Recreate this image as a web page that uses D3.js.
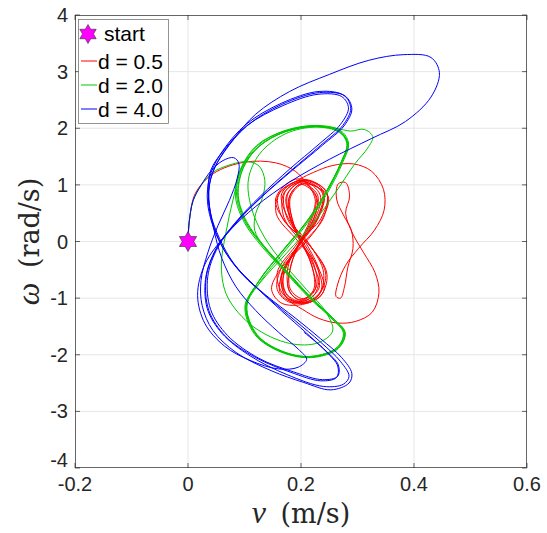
<!DOCTYPE html>
<html>
<head>
<meta charset="utf-8">
<script src="https://cdn.jsdelivr.net/npm/d3@7"></script>
<style>
  body { margin: 0; background: #fff; }
  svg { display: block; font-family: "Liberation Sans", Arial, sans-serif; }
</style>
</head>
<body>
<div id="chart"></div>
<script>
// axis ticks
const xTicks = [-0.2, 0, 0.2, 0.4, 0.6];
const xTickLabels = ["-0.2", "0", "0.2", "0.4", "0.6"];
const yTicks = [-4, -3, -2, -1, 0, 1, 2, 3, 4];

const seriesNames = ["d = 0.5", "d = 2.0", "d = 4.0"];
const seriesColors = ["#ff0000", "#00c800", "#0000ff"];
const startPoint = [0, 0];

// trajectories [v, omega]
const pathRed = [
  [0,0],[0.003,0.4],[0.013,0.85],[0.045,1.2],[0.1,1.4],[0.155,1.39],[0.19,1.24],[0.21,1.03],
  [0.23,0.8],[0.222,0.4],[0.2,0.02],[0.176,-0.4],[0.168,-0.8],[0.188,-1.05],[0.222,-0.96],[0.232,-0.55],[0.213,-0.1],[0.184,0.35],[0.174,0.8],[0.2,1.05],
  [0.24,0.85],[0.23,0.4],[0.2,-0.02],[0.166,-0.45],[0.158,-0.85],[0.182,-1.08],[0.23,-0.96],[0.24,-0.55],[0.215,-0.05],[0.178,0.4],[0.166,0.85],[0.202,1.08],
  [0.225,0.75],[0.215,0.35],[0.198,0],[0.183,-0.4],[0.178,-0.85],[0.198,-1.03],[0.222,-0.86],[0.22,-0.45],[0.2,0.02],[0.184,0.4],[0.182,0.8],[0.205,1.02],
  [0.248,0.8],[0.235,0.35],[0.205,-0.05],[0.163,-0.5],[0.148,-0.85],[0.168,-1.1],[0.222,-1.04],[0.244,-0.6],[0.218,-0.1],[0.172,0.35],[0.155,0.75],[0.19,1.1],
  [0.244,0.9],[0.24,0.42],[0.204,-0.03],[0.17,-0.48],[0.163,-0.9],[0.188,-1.08],[0.232,-0.99],[0.246,-0.58],[0.216,-0.08],[0.168,0.4],[0.16,0.82],[0.198,1.1],
  [0.222,1.22],[0.255,1.34],[0.293,1.37],[0.325,1.24],[0.346,0.92],[0.347,0.55],[0.33,0.2],[0.302,-0.12],[0.279,-0.42],[0.265,-0.75],[0.262,-0.97],[0.27,-1.0],
  [0.277,-0.8],[0.283,-0.45],[0.292,-0.12],[0.289,0.2],[0.276,0.45],[0.263,0.75],[0.266,1.02],[0.279,1.04],[0.286,0.8],[0.279,0.5],[0.291,0.15],[0.311,-0.2],
  [0.331,-0.55],[0.338,-0.9],[0.326,-1.25],[0.297,-1.41],[0.265,-1.44],[0.232,-1.36],[0.203,-1.2],
  [0.175,-1.0],[0.165,-0.65],[0.182,-0.3],[0.2,0.0],[0.225,0.4],[0.234,0.82],[0.205,1.06],[0.177,0.85],[0.18,0.42],[0.2,0.01],[0.222,-0.42],[0.232,-0.82],[0.203,-1.06],
  [0.174,-0.92],[0.17,-0.5],[0.199,-0.02],[0.23,0.45],[0.238,0.85],[0.207,1.07],[0.172,0.88],[0.174,0.45],[0.201,0.03],[0.226,-0.4],[0.236,-0.85],[0.206,-1.08],
  [0.17,-0.95],[0.158,-0.55],[0.19,-0.08],[0.222,0.38],[0.228,0.78],[0.203,1.03],[0.18,0.8],[0.185,0.38],[0.2,0.0],[0.218,-0.4],[0.225,-0.85],[0.2,-1.04],
  [0.18,-0.88],[0.177,-0.45],[0.2,0.02],[0.235,0.4],[0.246,0.85],[0.21,1.09],[0.165,0.9],[0.156,0.5],[0.195,0.0],[0.23,-0.45],[0.24,-0.88],[0.21,-1.09],
  [0.174,-0.98],[0.165,-0.6],[0.196,-0.05],[0.22,0.42],[0.226,0.8],[0.2,1.01],[0.179,0.78],[0.183,0.35],[0.2,0.0],[0.222,-0.38],[0.227,-0.8],[0.204,-1.01],
  [0.181,-0.84],[0.182,-0.42],[0.201,0.0],[0.23,0.42],[0.24,0.88],[0.208,1.08],[0.17,0.86],[0.17,0.42],[0.199,0.02]
];

const pathGreen = [
  [0,0],[0.002,0.34],[0.009,0.72],[0.023,0.99],[0.044,1.22],[0.076,1.36],[0.106,1.41],[0.126,1.33],[0.136,1.08],[0.132,0.78],[0.12,0.5],[0.118,0.2],
  [0.135,-0.1],[0.172,-0.52],[0.217,-1.0],[0.256,-1.37],[0.275,-1.62],[0.263,-1.88],[0.217,-2.03],[0.164,-1.94],[0.12,-1.64],[0.102,-1.14],
  [0.126,-0.69],[0.165,-0.19],[0.209,0.34],[0.244,0.87],[0.271,1.4],[0.281,1.73],[0.267,1.94],[0.227,2.03],[0.173,1.94],[0.126,1.68],[0.097,1.29],[0.088,0.81],
  [0.103,0.34],[0.133,-0.07],[0.173,-0.51],[0.218,-1.0],[0.257,-1.36],[0.276,-1.61],[0.264,-1.87],[0.218,-2.03],[0.165,-1.93],[0.12,-1.63],[0.103,-1.13],
  [0.127,-0.68],[0.167,-0.18],[0.211,0.35],[0.246,0.88],[0.273,1.41],[0.284,1.74],[0.27,1.96],[0.228,2.05],[0.172,1.96],[0.124,1.7],[0.095,1.3],[0.086,0.82],
  [0.101,0.35],[0.131,-0.06],[0.171,-0.5],[0.216,-0.99],[0.256,-1.35],[0.278,-1.6],[0.266,-1.89],[0.219,-2.05],[0.164,-1.95],[0.118,-1.64],[0.101,-1.12],
  [0.13,-0.7],[0.175,-0.2],[0.222,0.33],[0.262,0.88],[0.296,1.38],[0.318,1.65],[0.327,1.85],[0.312,1.98],[0.288,1.95],[0.262,2.0],[0.226,2.04],[0.17,1.95],
  [0.122,1.7],[0.093,1.28],[0.084,0.8],[0.1,0.33],[0.13,-0.08],[0.17,-0.52],[0.215,-1.0],[0.255,-1.37],[0.277,-1.62],[0.265,-1.88],[0.22,-2.04],[0.166,-1.94],
  [0.122,-1.64],[0.104,-1.14],
  [0.126,-0.69],[0.165,-0.19],[0.209,0.34],[0.244,0.87],[0.271,1.4],[0.282,1.73],[0.268,1.95],[0.227,2.03],[0.172,1.94],[0.125,1.68],[0.095,1.29],[0.08,0.75],
  [0.067,0.15],[0.059,-0.45],[0.07,-0.98],[0.115,-1.5],[0.18,-1.8],[0.23,-1.79],[0.256,-1.58],[0.245,-1.26],[0.21,-0.85],[0.17,-0.4],[0.135,0.08],[0.112,0.6],
  [0.107,1.1],[0.127,1.55],[0.172,1.9],[0.226,2.02],[0.268,1.93],[0.284,1.72],[0.274,1.4],[0.247,0.86],[0.211,0.32],[0.168,-0.21],[0.128,-0.71],[0.104,-1.14],
  [0.121,-1.65],[0.166,-1.95],[0.22,-2.04],[0.266,-1.88],[0.278,-1.62],[0.258,-1.37],[0.219,-1.0],[0.174,-0.51],[0.134,-0.07],[0.104,0.35],[0.089,0.81],[0.098,1.3],
  [0.127,1.69],[0.174,1.95],[0.228,2.04],[0.268,1.95],[0.282,1.74],[0.272,1.41],[0.245,0.88]
];

const pathBlue = [
  [0,0],[0.002,0.34],[0.009,0.72],[0.023,0.99],[0.041,1.25],[0.062,1.43],[0.081,1.48],[0.09,1.38],[0.087,1.11],[0.073,0.72],[0.053,0.28],[0.035,-0.2],
  [0.023,-0.69],[0.025,-1.13],[0.044,-1.57],[0.085,-1.96],[0.147,-2.28],[0.205,-2.49],[0.253,-2.62],[0.285,-2.5],[0.29,-2.33],
  [0.272,-2.05],[0.235,-1.72],[0.191,-1.36],[0.138,-0.95],[0.094,-0.55],[0.062,-0.12],[0.041,0.37],[0.034,0.81],[0.041,1.22],[0.062,1.61],[0.103,2.07],
  [0.165,2.44],[0.232,2.65],[0.276,2.58],[0.288,2.35],[0.274,2.05],[0.235,1.7],[0.182,1.25],[0.129,0.78],[0.085,0.34],[0.05,-0.12],[0.032,-0.65],[0.037,-1.22],
  [0.067,-1.68],[0.12,-2.05],[0.182,-2.31],[0.235,-2.46],[0.263,-2.4],[0.265,-2.2],[0.245,-1.95],
  [0.21,-1.62],[0.165,-1.22],[0.12,-0.8],[0.082,-0.4],[0.056,0.05],[0.04,0.5],[0.038,1.0],[0.052,1.4],[0.08,1.8],[0.12,2.25],[0.18,2.65],[0.25,2.95],
  [0.32,3.2],[0.382,3.3],[0.43,3.25],[0.445,2.98],[0.43,2.55],[0.385,2.12],[0.325,1.82],[0.25,1.45],[0.18,1.05],[0.12,0.62],[0.07,0.15],[0.03,-0.4],
  [0.017,-0.95],[0.03,-1.45],[0.065,-1.85],[0.11,-2.1],[0.16,-2.25],[0.195,-2.22],[0.21,-2.08],[0.195,-1.9],
  [0.16,-1.6],[0.12,-1.22],[0.085,-0.8],[0.06,-0.3],[0.045,0.25],[0.036,0.8],[0.04,1.25],[0.064,1.62],[0.105,2.05],[0.168,2.4],[0.23,2.6],[0.272,2.56],
  [0.284,2.36],[0.27,2.07],[0.232,1.72],[0.18,1.28],[0.128,0.8],[0.086,0.36],[0.052,-0.1],[0.032,-0.6],[0.034,-1.18],[0.06,-1.62],[0.11,-2.02],[0.175,-2.35],
  [0.24,-2.56],[0.275,-2.52],[0.285,-2.38],[0.27,-2.12],
  [0.235,-1.78],[0.19,-1.4],[0.14,-0.98],[0.096,-0.58],[0.064,-0.15],[0.043,0.35],[0.036,0.8],[0.043,1.2],[0.064,1.58],[0.104,2.04],[0.166,2.42],[0.233,2.63],
  [0.278,2.57],[0.29,2.34],[0.276,2.04],[0.238,1.7],[0.185,1.26],[0.132,0.8],[0.088,0.36],[0.053,-0.1],[0.035,-0.62],[0.04,-1.2],[0.07,-1.66],[0.125,-2.06],
  [0.186,-2.3],[0.238,-2.44],[0.265,-2.38],[0.266,-2.18],[0.245,-1.94],[0.205,-1.6]
];

const paths = [pathRed, pathGreen, pathBlue];

const W = 547, H = 533;
const plot = {left: 75, right: 527, top: 15, bottom: 468};

const svg = d3.select("#chart").append("svg")
    .attr("width", W)
    .attr("height", H);

const x = d3.scaleLinear().domain([-0.2, 0.6]).range([plot.left, plot.right]);
const y = d3.scaleLinear().domain([-4, 4]).range([plot.bottom, plot.top]);

// grid
svg.append("g").selectAll("line")
    .data(xTicks.slice(1, -1))
    .enter().append("line")
    .attr("x1", d => x(d)).attr("x2", d => x(d))
    .attr("y1", plot.top).attr("y2", plot.bottom)
    .attr("stroke", "#e6e6e6").attr("stroke-width", 1);

svg.append("g").selectAll("line")
    .data(yTicks.slice(1, -1))
    .enter().append("line")
    .attr("y1", d => y(d)).attr("y2", d => y(d))
    .attr("x1", plot.left).attr("x2", plot.right)
    .attr("stroke", "#e6e6e6").attr("stroke-width", 1);

// clip for the curves
svg.append("defs").append("clipPath")
    .attr("id", "clip")
    .append("rect")
    .attr("x", plot.left).attr("y", plot.top)
    .attr("width", plot.right - plot.left)
    .attr("height", plot.bottom - plot.top);

const line = d3.line()
    .x(d => x(d[0]))
    .y(d => y(d[1]))
    .curve(d3.curveCatmullRom.alpha(0.5));

svg.append("g").attr("clip-path", "url(#clip)")
    .selectAll("path")
    .data(paths)
    .enter().append("path")
    .attr("d", d => line(d))
    .attr("fill", "none")
    .attr("stroke", (d, i) => seriesColors[i])
    .attr("stroke-width", 1);

// six-pointed star marker
function hexagram(R) {
    let pts = [];
    for (let k = 0; k < 12; k++) {
        let a = -Math.PI / 2 + k * Math.PI / 6;
        let r = (k % 2 === 0) ? R : R / Math.sqrt(3);
        pts.push([r * Math.cos(a), r * Math.sin(a)]);
    }
    return "M" + pts.map(p => p[0].toFixed(2) + "," + p[1].toFixed(2)).join("L") + "Z";
}

svg.append("path")
    .attr("d", hexagram(10))
    .attr("transform", "translate(" + x(startPoint[0]) + "," + y(startPoint[1]) + ")")
    .attr("fill", "#ff00ff")
    .attr("stroke", "#333")
    .attr("stroke-width", 0.6);

// axes box and ticks
const axisColor = "#262626";
svg.append("rect")
    .attr("x", plot.left + 0.5).attr("y", plot.top + 0.5)
    .attr("width", plot.right - plot.left - 1)
    .attr("height", plot.bottom - plot.top - 1)
    .attr("fill", "none")
    .attr("stroke", axisColor).attr("stroke-width", 0.7);

const tickLen = 5;
xTicks.forEach(t => {
    svg.append("line").attr("x1", x(t)).attr("x2", x(t))
        .attr("y1", plot.bottom).attr("y2", plot.bottom - tickLen)
        .attr("stroke", axisColor).attr("stroke-width", 0.7);
    svg.append("line").attr("x1", x(t)).attr("x2", x(t))
        .attr("y1", plot.top).attr("y2", plot.top + tickLen)
        .attr("stroke", axisColor).attr("stroke-width", 0.7);
});
yTicks.forEach(t => {
    svg.append("line").attr("y1", y(t)).attr("y2", y(t))
        .attr("x1", plot.left).attr("x2", plot.left + tickLen)
        .attr("stroke", axisColor).attr("stroke-width", 0.7);
    svg.append("line").attr("y1", y(t)).attr("y2", y(t))
        .attr("x1", plot.right).attr("x2", plot.right - tickLen)
        .attr("stroke", axisColor).attr("stroke-width", 0.7);
});

// tick labels
svg.append("g").selectAll("text")
    .data(xTicks)
    .enter().append("text")
    .attr("x", d => x(d))
    .attr("y", plot.bottom + 23)
    .attr("text-anchor", "middle")
    .style("font-size", "20px")
    .style("fill", "#262626")
    .text((d, i) => xTickLabels[i]);

// the lowest label sits a little higher so it clears "-0.2"
svg.append("g").selectAll("text")
    .data(yTicks)
    .enter().append("text")
    .attr("x", plot.left - 7)
    .attr("y", d => y(d) + (d === -4 ? -1 : 7))
    .attr("text-anchor", "end")
    .style("font-size", "20px")
    .style("fill", "#262626")
    .text(d => d);

// axis labels
const xLab = svg.append("text")
    .attr("x", (plot.left + plot.right) / 2)
    .attr("y", 523)
    .attr("text-anchor", "middle")
    .style("font-family", "'DejaVu Serif', serif")
    .style("font-size", "27px")
    .style("fill", "#262626");
xLab.append("tspan")
    .style("font-family", "'Liberation Serif', serif")
    .style("font-style", "italic")
    .style("font-size", "32px")
    .text("v");
xLab.append("tspan").attr("dx", 6).text(" (m/s)");

const yLab = svg.append("text")
    .attr("transform", "translate(39," + ((plot.top + plot.bottom) / 2) + ") rotate(-90)")
    .attr("text-anchor", "middle")
    .style("font-family", "'DejaVu Serif', serif")
    .style("font-size", "27px")
    .style("fill", "#262626");
yLab.append("tspan")
    .style("font-family", "'Liberation Serif', serif")
    .style("font-style", "italic")
    .style("font-size", "32px")
    .text("ω");
yLab.append("tspan").attr("dx", 6).text(" (rad/s)");

// legend
const lg = svg.append("g");
lg.append("rect")
    .attr("x", 78.5).attr("y", 19.5)
    .attr("width", 90).attr("height", 104)
    .attr("fill", "#fff")
    .attr("stroke", "#666").attr("stroke-width", 0.7);

lg.append("path")
    .attr("d", hexagram(9.5))
    .attr("transform", "translate(88,34)")
    .attr("fill", "#ff00ff")
    .attr("stroke", "#333")
    .attr("stroke-width", 0.6);
lg.append("text")
    .attr("x", 104).attr("y", 41)
    .style("font-size", "21px")
    .style("fill", "#000")
    .text("start");

seriesNames.forEach((name, i) => {
    let yy = 61 + i * 24;
    lg.append("line")
        .attr("x1", 81).attr("x2", 97)
        .attr("y1", yy).attr("y2", yy)
        .attr("stroke", seriesColors[i]).attr("stroke-width", 1);
    lg.append("text")
        .attr("x", 98).attr("y", yy + 7.5)
        .style("font-size", "21px")
        .style("fill", "#000")
        .text(name);
});
</script>
</body>
</html>
